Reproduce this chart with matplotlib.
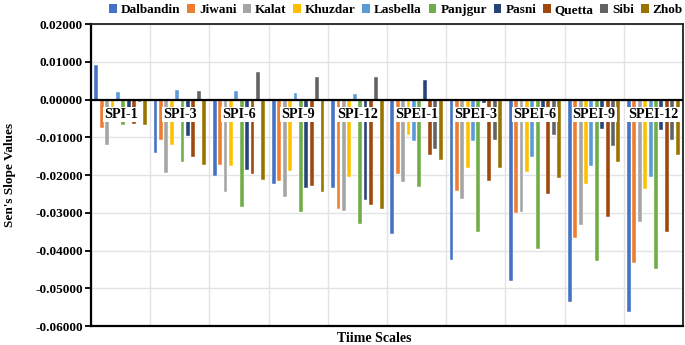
import numpy as np
import matplotlib
matplotlib.use("Agg")
import matplotlib.pyplot as plt
from matplotlib.patches import Patch

# time scales (x categories)
scales = ["SPI-1", "SPI-3", "SPI-6", "SPI-9", "SPI-12",
          "SPEI-1", "SPEI-3", "SPEI-6", "SPEI-9", "SPEI-12"]

stations = ["Dalbandin", "Jiwani", "Kalat", "Khuzdar", "Lasbella",
            "Panjgur", "Pasni", "Quetta", "Sibi", "Zhob"]

# Sen's slope per station, one value per time scale
dalbandin = [0.0093, -0.0141, -0.0203, -0.0224, -0.0235, -0.0355, -0.0424, -0.0482, -0.0537, -0.0563]
jiwani    = [-0.0075, -0.0106, -0.0173, -0.0215, -0.0289, -0.0197, -0.0241, -0.0301, -0.0367, -0.0432]
kalat     = [-0.0121, -0.0194, -0.0246, -0.0257, -0.0294, -0.0219, -0.0264, -0.0297, -0.0331, -0.0324]
khuzdar   = [-0.0030, -0.0119, -0.0175, -0.0189, -0.0205, -0.0093, -0.0180, -0.0191, -0.0223, -0.0237]
lasbella  = [0.0020, 0.0025, 0.0022, 0.0018, 0.0014, -0.0110, -0.0110, -0.0152, -0.0177, -0.0205]
panjgur   = [-0.0066, -0.0166, -0.0284, -0.0298, -0.0329, -0.0232, -0.0352, -0.0397, -0.0427, -0.0448]
pasni     = [-0.0030, -0.0097, -0.0186, -0.0235, -0.0265, 0.0053, -0.0008, -0.0030, -0.0077, -0.0080]
quetta    = [-0.0064, -0.0151, -0.0198, -0.0228, -0.0280, -0.0147, -0.0215, -0.0249, -0.0312, -0.0352]
sibi      = [-0.0005, 0.0022, 0.0072, 0.0059, 0.0060, -0.0130, -0.0108, -0.0093, -0.0123, -0.0108]
zhob      = [-0.0068, -0.0172, -0.0214, -0.0246, -0.0289, -0.0161, -0.0181, -0.0207, -0.0165, -0.0148]

series = [dalbandin, jiwani, kalat, khuzdar, lasbella,
          panjgur, pasni, quetta, sibi, zhob]
colors = ["#4472C4", "#ED7D31", "#A5A5A5", "#FFC000", "#5B9BD5",
          "#70AD47", "#264478", "#9E480E", "#636363", "#997300"]

serif = ["Liberation Serif", "DejaVu Serif"]
plt.rcParams["font.family"] = serif
plt.rcParams["font.weight"] = "bold"

fig = plt.figure(figsize=(6.85, 3.45), dpi=100)
ax = fig.add_axes([0.1328, 0.055, 0.8642, 0.875])

x = np.arange(len(scales))
step = 0.0912
width = 0.066
for j, (vals, col) in enumerate(zip(series, colors)):
    ax.bar(x + (j - 4.5) * step, vals, width=width, color=col,
           edgecolor="white", linewidth=0.3, zorder=3)

ax.set_xlim(-0.5, len(scales) - 0.5)
ax.set_ylim(-0.06, 0.02)
ticks = np.arange(-0.06, 0.0201, 0.01)
ax.set_yticks(ticks)
ax.set_yticklabels([f"{v:.5f}" for v in ticks], fontsize=9.5, fontweight="bold")
ax.set_xticks(np.arange(len(scales) + 1) - 0.5, minor=True)
ax.set_xticks([])
ax.grid(axis="y", color="#E3E3E3", linewidth=1.0, zorder=0)
ax.grid(axis="x", which="minor", color="#E3E3E3", linewidth=1.0, zorder=0)
ax.tick_params(axis="x", which="both", length=0)
ax.tick_params(axis="y", direction="out", length=4, width=1.3, pad=2)
ax.axhline(0, color="black", linewidth=1.6, zorder=4)

for side in ["left", "bottom"]:
    ax.spines[side].set_linewidth(1.6)
for side in ["top", "right"]:
    ax.spines[side].set_linewidth(1.3)
    ax.spines[side].set_color("#222222")

for i, name in enumerate(scales):
    ax.text(i, -0.0039, name, ha="center", va="center", fontsize=10.2,
            fontweight="bold", zorder=5,
            bbox=dict(facecolor="white", edgecolor="none", pad=0.8))

ax.set_ylabel("Sen's Slope Values", fontsize=9.5, fontweight="bold", labelpad=14)
fig.text(0.547, 0.0, "Tiime Scales", ha="center", va="bottom",
         fontsize=10, fontweight="bold")

handles = [Patch(facecolor=c, edgecolor="none") for c in colors]
fig.legend(handles, stations, loc="upper center", bbox_to_anchor=(0.578, 1.022),
           ncol=10, frameon=False, handlelength=0.6, handleheight=0.6,
           handletextpad=0.3, columnspacing=0.5,
           prop={"weight": "bold", "size": 9.5})

fig.savefig("out.png", dpi=100)
